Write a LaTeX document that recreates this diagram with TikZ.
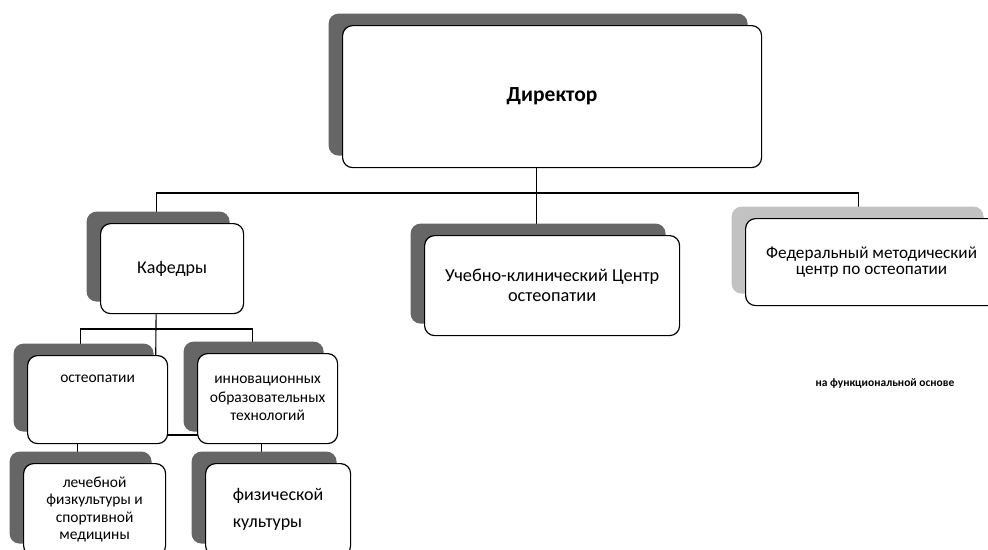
\documentclass[tikz,border=0pt]{standalone}
\usepackage{fontspec}
\setmainfont{Carlito}
\usetikzlibrary{shadows,backgrounds}
\definecolor{shadowdark}{gray}{0.40}
\definecolor{shadowlight}{gray}{0.76}
\tikzset{every picture/.style={line width=0.75pt}}
\tikzset{
  orgbox/.style={draw, line width=1.2pt, rounded corners=10pt, fill=white, anchor=north west,
    align=center, inner sep=2pt,
    drop shadow={shadow xshift=-14pt, shadow yshift=12pt, opacity=1, fill=#1}},
  orgbox/.default=shadowdark,
  link/.style={line width=1.1pt},
}

\begin{document}
\begin{tikzpicture}[x=1pt,y=1pt,yscale=-1,xscale=1]
    \useasboundingbox (0,0) rectangle (988,549);

    %Shape: Director
    \node[orgbox, minimum width=419, minimum height=142, font=\fontsize{21.5}{25}\selectfont\bfseries] (dir) at (342,25) {Директор};
    %Shape: second level
    \node[orgbox, minimum width=143, minimum height=90, font=\fontsize{18}{21}\selectfont] (kaf) at (100,223) {Кафедры};
    \node[orgbox, minimum width=255, minimum height=100, font=\fontsize{18.3}{20}\selectfont] (ukc) at (424,235) {Учебно-клинический Центр\\остеопатии};
    \node[orgbox=shadowlight, minimum width=252, minimum height=87, font=\fontsize{17.2}{16.5}\selectfont] (fed) at (745,218) {Федеральный методический\\центр по остеопатии};
    %Shape: departments
    \node[orgbox, minimum width=140, minimum height=88, font=\fontsize{15.5}{18}\selectfont] (ost) at (27,355) {остеопатии\\\strut\\\strut};
    \node[orgbox, minimum width=140, minimum height=90, font=\fontsize{15.5}{18.5}\selectfont] (inn) at (197,353) {инновационных\\образовательных\\технологий};
    \node[orgbox, minimum width=142, minimum height=92, font=\fontsize{15.5}{17.3}\selectfont] (lech) at (23,463) {лечебной\\физкультуры и\\спортивной\\медицины};
    \node[orgbox, minimum width=145, minimum height=92, align=left, font=\fontsize{18}{27}\selectfont] (fiz) at (205,463) {физической\\культуры};

    % Text Node
    \node[font=\fontsize{11.5}{13}\selectfont\bfseries] (note) at (885,383) {на функциональной основе};

    %Connectors
    \begin{scope}[on background layer]
    \coordinate (bus) at (535,193);
    \coordinate (kbus) at (155,329);
    \coordinate (lbus) at (155,435);
    \draw[link] ([xshift=-16pt]dir.south) -- ([xshift=-16pt]dir.south |- ukc.north);
    \draw[link] ([xshift=-16pt]kaf.north) |- (bus) -| ([xshift=-13pt]fed.north);
    \draw[link] ([xshift=-16pt]kaf.south) -- (lbus);
    \draw[link] ([xshift=-17pt]ost.north) |- (kbus) -| ([xshift=-15pt]inn.north);
    \draw[link] ([xshift=-17pt]lech.north) |- (lbus) -| ([xshift=-17pt]fiz.north);
    \end{scope}

\end{tikzpicture}
\end{document}
